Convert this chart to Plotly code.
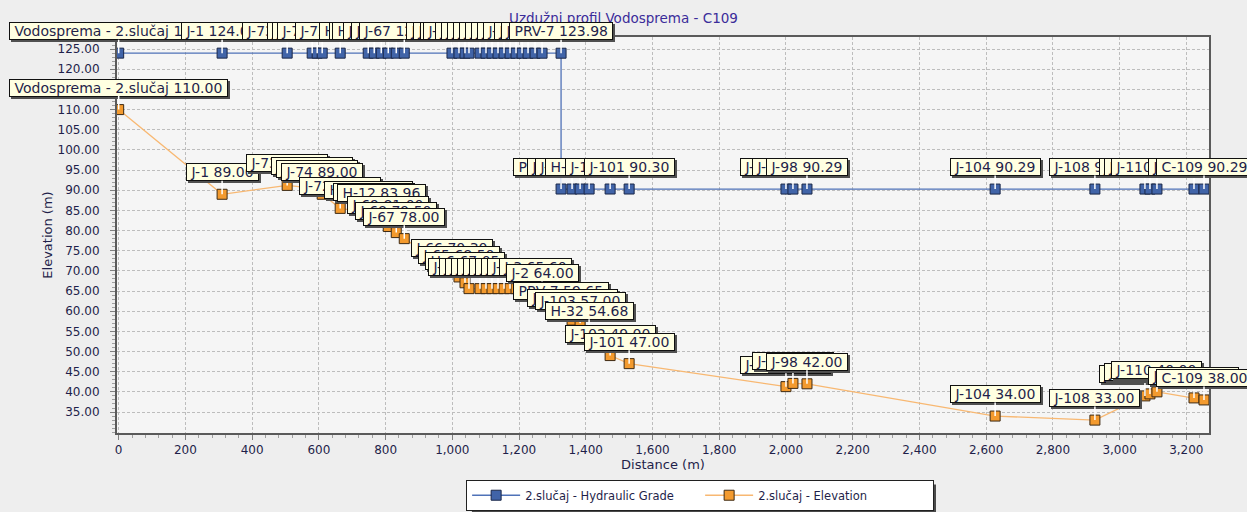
import plotly.graph_objects as go

# Longitudinal profile: reservoir "Vodosprema" to node C109, scenario "2.slučaj"
node_names = [
    "Vodosprema - 2.slučaj", "J-1", "J-73", "J-75", "J-76", "J-74", "J-72",
    "H-13", "J-71", "H-12", "J-69", "J-68", "J-67",
    "J-66", "J-65", "H-6", "J-64", "J-63", "J-62", "J-61", "J-60", "J-59",
    "J-58", "J-57", "J-56", "J-55", "J-3", "J-2", "PRV-7",
    "J-105", "J-103", "H-32", "J-102", "J-101",
    "J-100", "J-99", "J-98", "J-104", "J-108",
    "J-109", "J-111", "J-110", "J-107", "C-109",
]
distance_m = [
    0, 310, 505, 580, 595, 610, 664,
    748, 766, 787, 808, 832, 856,
    999, 1020, 1038, 1050, 1083, 1101, 1119, 1137, 1155,
    1173, 1191, 1209, 1227, 1248, 1269, 1326,
    1359, 1383, 1410, 1473, 1530,
    2000, 2021, 2063, 2627, 2926,
    3076, 3091, 3112, 3223, 3253,
]
elevation_m = [
    110.00, 89.00, 91.20, 90.50, 89.80, 89.00, 85.50,
    84.50, 84.20, 83.96, 81.00, 79.50, 78.00,
    70.30, 68.50, 67.05, 65.60, 65.60, 65.60, 65.60, 65.60, 65.60,
    65.60, 65.60, 65.60, 65.60, 65.60, 64.00, 59.65,
    57.80, 57.00, 54.68, 49.00, 47.00,
    41.30, 42.10, 42.00, 34.00, 33.00,
    39.00, 39.50, 40.00, 38.50, 38.00,
]
# hydraulic grade at each node (upstream side for the PRV)
hydraulic_grade_m = [
    124.00, 124.00, 124.00, 124.00, 124.00, 123.99, 123.99,
    123.99, 123.99, 123.99, 123.99, 123.99, 123.99,
    123.99, 123.99, 123.99, 123.99, 123.99, 123.99, 123.99, 123.99, 123.99,
    123.98, 123.98, 123.98, 123.98, 123.98, 123.98, 123.98,
    90.30, 90.30, 90.30, 90.30, 90.30,
    90.29, 90.29, 90.29, 90.29, 90.29,
    90.29, 90.29, 90.29, 90.29, 90.29,
]
prv_name = "PRV-7"
prv_outlet_grade_m = 90.30

x_ticks = [0, 200, 400, 600, 800, 1000, 1200, 1400, 1600, 1800, 2000,
           2200, 2400, 2600, 2800, 3000, 3200]
y_ticks = [35, 40, 45, 50, 55, 60, 65, 70, 75, 80, 85, 90, 95, 100,
           105, 110, 115, 120, 125]

# HGL series: the PRV contributes an inlet and an outlet point at the same station
hgl_x, hgl_y, hgl_names = [], [], []
for name, d, h in zip(node_names, distance_m, hydraulic_grade_m):
    hgl_x.append(d)
    hgl_y.append(h)
    hgl_names.append(name)
    if name == prv_name:
        hgl_x.append(d)
        hgl_y.append(prv_outlet_grade_m)
        hgl_names.append(name)

FONT = "DejaVu Sans"
TEXT_COLOR = "#1f1f4a"

fig = go.Figure()
fig.add_trace(go.Scatter(
    x=hgl_x, y=hgl_y, mode="lines+markers",
    name="2.slučaj - Hydraulic Grade",
    line=dict(color="#4f72b8", width=1.3),
    marker=dict(symbol="square", size=10, color="#4164a8",
                line=dict(color="#1a2748", width=1)),
))
fig.add_trace(go.Scatter(
    x=distance_m, y=elevation_m, mode="lines+markers",
    name="2.slučaj - Elevation",
    line=dict(color="#f8b872", width=1.3),
    marker=dict(symbol="square", size=10, color="#f39a2e",
                line=dict(color="#3d2a14", width=1)),
))

# Tooltip-style point labels with a drop shadow and a white leader line
LABEL_RISE = 22
annotations = []
def add_label(x, y, text):
    label = "\u00a0" + text + "\u00a0"
    annotations.append(dict(
        x=x, y=y, xref="x", yref="y", text=label, showarrow=False,
        xshift=2, yshift=LABEL_RISE - 2,
        font=dict(family=FONT, size=14, color="#505050"),
        bgcolor="#505050", bordercolor="#505050", borderwidth=1, borderpad=0,
    ))
    annotations.append(dict(
        x=x, y=y, xref="x", yref="y", text=label, showarrow=True,
        ax=0, ay=-LABEL_RISE, arrowcolor="white", arrowwidth=1.5, arrowhead=0,
        standoff=0, font=dict(family=FONT, size=14, color=TEXT_COLOR),
        bgcolor="#ffffe1", bordercolor="#101010", borderwidth=1, borderpad=0,
    ))

for n, d, h in zip(hgl_names, hgl_x, hgl_y):
    add_label(d, h, f"{n} {h:.2f}")
for n, d, e in zip(node_names, distance_m, elevation_m):
    add_label(d, e, f"{n} {e:.2f}")

# drop shadow behind the legend box
legend_shadow = dict(type="rect", xref="paper", yref="paper", layer="above",
                     x0=0.3250, x1=0.7500, y0=-0.2100, y1=-0.1300,
                     fillcolor="#4a4a4a", line=dict(width=0))

fig.update_layout(
    width=1247, height=512,
    margin=dict(l=117, r=38, t=37, b=79, autoexpand=False),
    paper_bgcolor="#eeeeee",
    plot_bgcolor="#f5f5f5",
    font=dict(family=FONT, size=12, color=TEXT_COLOR),
    title=dict(text="Uzdužni profil Vodosprema - C109",
               x=0.5, xref="container", xanchor="center",
               y=0.965, yref="container", yanchor="middle",
               font=dict(family=FONT, size=13.5, color="#3b2c9a")),
    showlegend=True,
    legend=dict(orientation="h", x=0.534, xanchor="center",
                y=-0.118, yanchor="top",
                bgcolor="#ffffff", bordercolor="#202020", borderwidth=1,
                font=dict(family=FONT, size=11.5, color=TEXT_COLOR),
                itemwidth=48, tracegroupgap=0,
                entrywidth=170, entrywidthmode="pixels"),
    shapes=[legend_shadow],
    annotations=annotations,
)
fig.update_xaxes(
    range=[-5, 3268], tickvals=x_ticks, tickformat=",",
    ticks="outside", ticklen=5, tickcolor="#808080",
    minor=dict(dtick=40, ticks="outside", ticklen=3, tickcolor="#a0a0a0",
               showgrid=False),
    showgrid=True, gridcolor="#bdbdbd", griddash="3px,2px", gridwidth=1,
    showline=True, linecolor="#5a5a5a", linewidth=2, mirror=True,
    zeroline=False, ticklabelstandoff=0,
    title=dict(text="Distance (m)", standoff=0,
               font=dict(family=FONT, size=13, color=TEXT_COLOR)),
    tickfont=dict(family=FONT, size=12, color=TEXT_COLOR),
)
fig.update_yaxes(
    range=[29.8, 128.0], tickvals=y_ticks, tickformat=".2f",
    ticks="outside", ticklen=5, tickcolor="#808080",
    minor=dict(dtick=1, ticks="outside", ticklen=3, tickcolor="#a0a0a0",
               showgrid=False),
    showgrid=True, gridcolor="#bdbdbd", griddash="3px,2px", gridwidth=1,
    showline=True, linecolor="#5a5a5a", linewidth=2, mirror=True,
    zeroline=False, ticklabelstandoff=8,
    title=dict(text="Elevation (m)", standoff=2,
               font=dict(family=FONT, size=13, color=TEXT_COLOR)),
    tickfont=dict(family=FONT, size=12, color=TEXT_COLOR),
)

fig.write_html("out.html")
